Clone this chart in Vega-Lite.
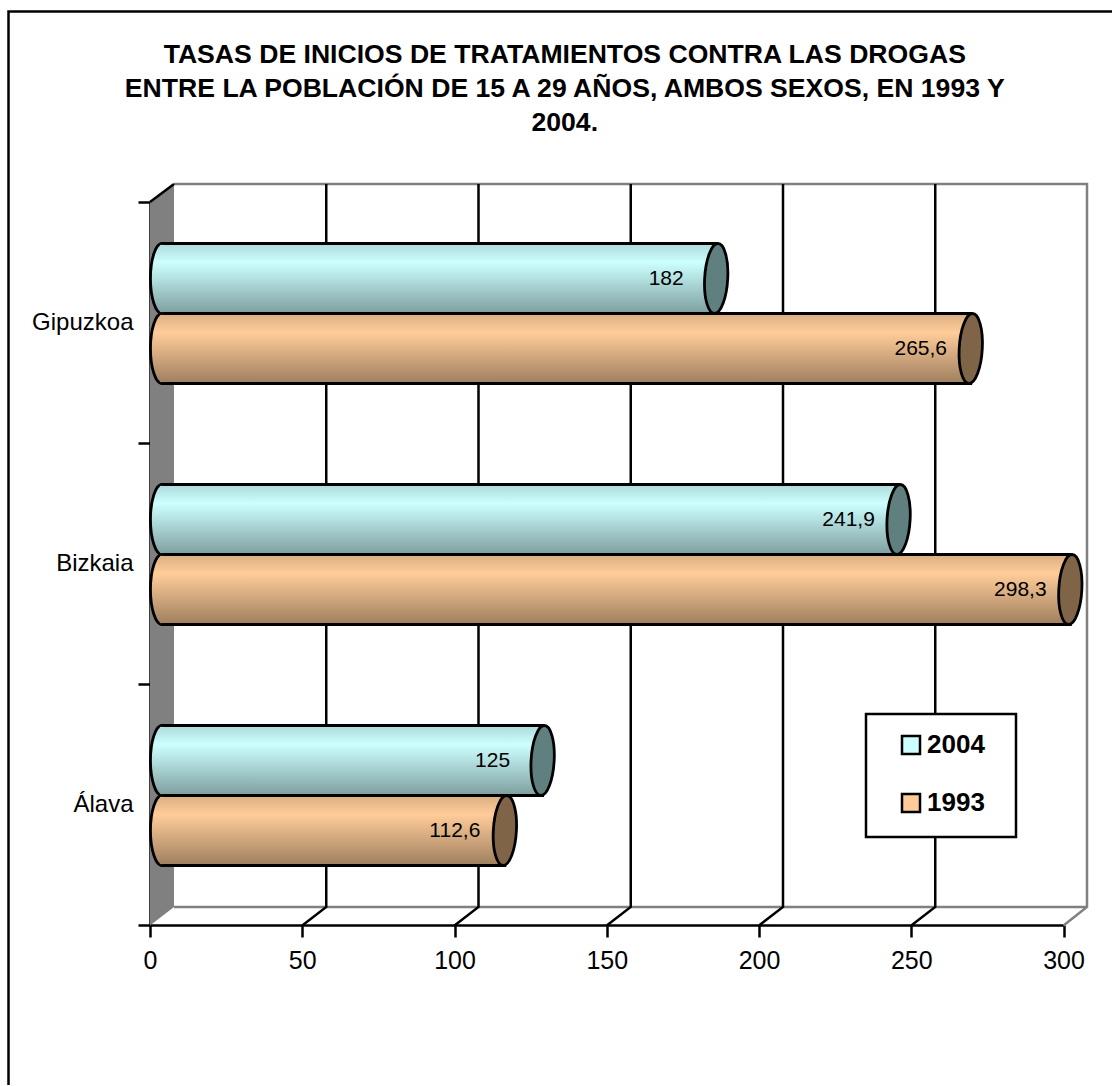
{
"$schema":"https://vega.github.io/schema/vega-lite/v6.json",
"autosize":"none",
"padding":{"left":150,"top":202,"right":48.5,"bottom":161},
"width":913.5,
"height":723,
"background":"white",
"title":{"text":["TASAS DE INICIOS DE TRATAMIENTOS CONTRA LAS DROGAS","ENTRE LA POBLACIÓN DE 15 A 29 AÑOS, AMBOS SEXOS, EN 1993 Y","2004."],"font":"Liberation Sans","fontSize":26.6,"fontWeight":"bold","color":"black","anchor":"middle","frame":"group","dx":-42,"offset":-130,"lineHeight":34},
"config":{"view":{"stroke":null},"font":"Liberation Sans",
"axis":{"grid":false,"domainColor":"black","domainWidth":2.5,"tickColor":"black","tickWidth":2.5,"tickSize":12,"labelColor":"black","labelFont":"Liberation Sans","zindex":1,"title":null,"labelFlush":false,"labelOverlap":false},
"axisX":{"labelPadding":11,"labelFontSize":25},
"axisY":{"tickBand":"extent","labelPadding":5,"labelFontSize":24},
"legend":{"orient":"none","legendX":748,"legendY":530,"zindex":2,"title":null,"padding":0,"symbolType":"square","symbolSize":324,"symbolStrokeColor":"black","symbolStrokeWidth":2.5,"symbolOpacity":1,"labelFont":"Liberation Sans","labelFontSize":26,"labelFontWeight":"bold","labelColor":"black","labelOffset":3,"rowPadding":30}},
"layer":[
{"data":{"values":[{"anchor":0}]},
 "mark":{"type":"point","filled":false,"opacity":1,"strokeWidth":2.5,"stroke":"black","size":40000,"shape":"M-1.415,5.215L-1.415,-5.52L9.62,-5.52"},
 "encoding":{"x":{"field":"anchor","type":"quantitative","title":null,"scale":{"domain":[0,300],"nice":false},"axis":{"values":[0,50,100,150,200,250,300]}},
 "y":{"datum":"Bizkaia","type":"nominal","title":null,"scale":{"domain":["Gipuzkoa","Bizkaia","Álava"]}}}},
{"data":{"values":[{"anchor":0}]},
 "mark":{"type":"point","filled":true,"opacity":1,"fill":"#808080","strokeWidth":0,"size":40000,"shape":"M0,3.62L0,-3.615L0.24,-3.795L0.24,3.435Z"},
 "encoding":{"x":{"field":"anchor","type":"quantitative","title":null},"y":{"datum":"Bizkaia","type":"nominal","title":null}}},
{"data":{"values":[{"anchor":0}]},
 "mark":{"type":"point","filled":false,"opacity":1,"stroke":"#808080","strokeWidth":2.5,"size":40000,"shape":"M0.24,-3.795L9.37,-3.795L9.37,3.435L9.135,3.62M9.37,3.435L0.24,3.435"},
 "encoding":{"x":{"field":"anchor","type":"quantitative","title":null},"y":{"datum":"Bizkaia","type":"nominal","title":null}}},
{"data":{"values":[{"anchor":0}]},
 "mark":{"type":"point","filled":false,"opacity":1,"stroke":"black","strokeWidth":2.5,"size":40000,"shape":"M0,-3.615L0.24,-3.795"},
 "encoding":{"x":{"field":"anchor","type":"quantitative","title":null},"y":{"datum":"Bizkaia","type":"nominal","title":null}}},
{"data":{"values":[{"tick":50},{"tick":100},{"tick":150},{"tick":200},{"tick":250}]},
 "mark":{"type":"point","filled":false,"opacity":1,"stroke":"black","strokeWidth":2.5,"size":40000,"shape":"M0,3.62L0.24,3.435L0.24,-3.795"},
 "encoding":{"x":{"field":"tick","type":"quantitative","title":null},"y":{"datum":"Bizkaia","type":"nominal","title":null}}},
{"data":{"values":[{"anchor":0}]},
 "mark":{"type":"point","filled":true,"opacity":1,"fill":"white","stroke":"black","strokeWidth":2.5,"size":40000,"shape":"M7.16,1.505L8.66,1.505L8.66,2.735L7.16,2.735Z"},
 "encoding":{"x":{"field":"anchor","type":"quantitative","title":null},"y":{"datum":"Bizkaia","type":"nominal","title":null}}},
{"data":{"values":[
 {"region":"Gipuzkoa","series":"2004","value":182,"label":"182"},
 {"region":"Gipuzkoa","series":"1993","value":265.6,"label":"265,6"},
 {"region":"Bizkaia","series":"2004","value":241.9,"label":"241,9"},
 {"region":"Bizkaia","series":"1993","value":298.3,"label":"298,3"},
 {"region":"Álava","series":"2004","value":125,"label":"125"},
 {"region":"Álava","series":"1993","value":112.6,"label":"112,6"}]},
 "encoding":{
  "x":{"field":"value","type":"quantitative","title":null},
  "y":{"field":"region","type":"nominal","title":null},
  "yOffset":{"field":"series","type":"nominal","scale":{"type":"band","domain":["2004","1993"],"range":[41.5,181.5],"paddingInner":0,"paddingOuter":0}}},
 "layer":[
  {"mark":{"type":"point","filled":true,"opacity":1,"stroke":"black","strokeWidth":2.8,"size":4900,"xOffset":12,"shape":"M0,-1C0.182,-1 0.33,-0.552 0.33,0C0.33,0.552 0.182,1 0,1C-0.182,1 -0.33,0.552 -0.33,0C-0.33,-0.552 -0.182,-1 0,-1Z"},
   "encoding":{"x":{"datum":0,"type":"quantitative","title":null},
    "fill":{"field":"series","type":"nominal","title":null,"scale":{"domain":["2004","1993"],"range":["#CCFFFF","#FFCC99"]}}}},
  {"mark":{"type":"bar","stroke":"black","strokeWidth":2.8,"xOffset":12,"x2Offset":12},
   "encoding":{"fill":{"field":"series","type":"nominal","title":null}}},
  {"mark":{"type":"point","filled":true,"opacity":1,"strokeWidth":0,"size":4900,"xOffset":12,"shape":"M-0.06,-0.96L0.06,-0.96L0.06,0.96L-0.06,0.96Z"},
   "encoding":{"x":{"datum":0,"type":"quantitative","title":null},"fill":{"field":"series","type":"nominal","title":null}}},
  {"mark":{"type":"bar","xOffset":12,"x2Offset":12,"stroke":null,"fill":{"gradient":"linear","x1":0,"y1":0,"x2":0,"y2":1,"stops":[{"offset":0,"color":"rgba(0,0,0,0.15)"},{"offset":0.27,"color":"rgba(0,0,0,0)"},{"offset":1,"color":"rgba(0,0,0,0.38)"}]}}},
  {"mark":{"type":"point","filled":true,"opacity":1,"strokeWidth":0,"size":4900,"xOffset":12,"shape":"M-0.33,0C-0.33,0.552 -0.182,1 0,1L0,-1C-0.182,-1 -0.33,-0.552 -0.33,0Z","fill":{"gradient":"linear","x1":0,"y1":0,"x2":0,"y2":1,"stops":[{"offset":0,"color":"rgba(0,0,0,0.15)"},{"offset":0.27,"color":"rgba(0,0,0,0)"},{"offset":1,"color":"rgba(0,0,0,0.38)"}]}},
   "encoding":{"x":{"datum":0,"type":"quantitative","title":null}}},
  {"mark":{"type":"point","filled":true,"opacity":1,"stroke":"black","strokeWidth":2.8,"size":4900,"xOffset":12,"shape":"M0.05,-1C0.232,-1 0.358,-0.552 0.33,0C0.302,0.552 0.132,1 -0.05,1C-0.232,1 -0.358,0.552 -0.33,0C-0.302,-0.552 -0.132,-1 0.05,-1Z"},
   "encoding":{"fill":{"condition":{"test":"datum.series === '2004'","value":"#608080"},"value":"#806448"}}},
  {"mark":{"type":"text","font":"Liberation Sans","fontSize":21,"color":"black","baseline":"middle","align":"center","xOffset":-38},
   "encoding":{"text":{"field":"label","type":"nominal"}}}
 ]}
]}
